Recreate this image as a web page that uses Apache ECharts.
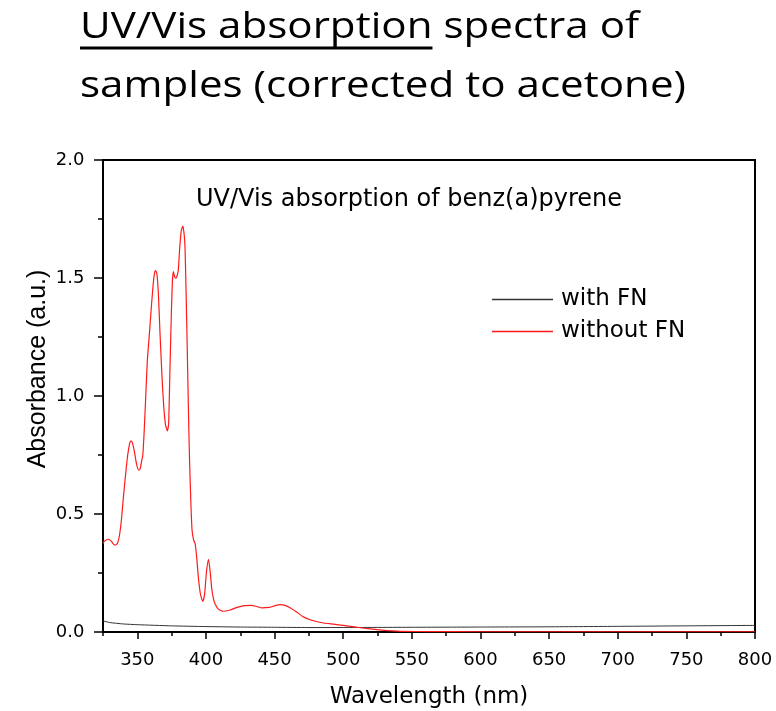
<!DOCTYPE html>
<html><head><meta charset="utf-8">
<script src="https://cdn.jsdelivr.net/npm/echarts@6/dist/echarts.min.js"></script>
<style>html,body{margin:0;padding:0;background:#fff}#c{width:776px;height:711px}</style>
</head><body><div id="c"></div>
<script>
// ---- texts ----
const titleUnderlined = 'UV/Vis absorption';
const titleRest = ' spectra of';
const titleLine2 = 'samples (corrected to acetone)';
const plotTitle = 'UV/Vis absorption of benz(a)pyrene';
const xAxisName = 'Wavelength (nm)';
const yAxisName = 'Absorbance (a.u.)';
const seriesNames = ['with FN', 'without FN'];
const seriesColors = ['#333333', '#ff1a1a'];

// ---- ticks ----
const xRange = [325, 800];
const xMajorTicks = [350, 400, 450, 500, 550, 600, 650, 700, 750, 800];
const xMinorTicks = [325, 375, 425, 475, 525, 575, 625, 675, 725, 775];
const yRange = [0, 2];
const yTickStep = 0.5;

// ---- data: with FN (black) ----
const withFN_wl  = [325, 330, 340, 350, 375, 400, 425, 450, 475, 500, 550, 600, 650, 700, 750, 800];
const withFN_abs = [0.047, 0.040, 0.034, 0.031, 0.026, 0.023, 0.021, 0.020, 0.019, 0.019, 0.020, 0.021, 0.022, 0.024, 0.026, 0.028];

// ---- data: without FN (red) ----
const withoutFN_wl = [325, 326, 327.5, 329, 331, 333.5, 335.5, 337, 338.5, 340, 341.5, 343, 344.5, 345.5, 346.5, 348, 349.5, 351, 352, 353, 354, 355, 356, 357.3, 358.5, 360, 361.5, 362.5, 363.3, 364.2, 365.3, 366.5, 368, 369.2, 370.5, 371.9, 372.8, 373.8, 374.8, 375.6, 376.3, 377.2, 378.2, 379, 379.8, 380.8, 382, 383.2, 384.2, 384.8, 385.6, 386.4, 387.2, 388, 389, 389.9, 391, 392.1, 393.2, 394.5, 396, 397.7, 399, 400.3, 401.8, 403, 404.3, 405.5, 406.6, 409, 412.7, 417, 422, 428, 433, 437, 441, 446, 450, 454, 457, 461, 466, 471, 477, 485.6, 493, 500, 508, 517.7, 528, 541.9, 560, 600, 650, 700, 750, 800];
const withoutFN_abs = [0.375, 0.385, 0.390, 0.393, 0.385, 0.368, 0.375, 0.410, 0.480, 0.580, 0.670, 0.750, 0.800, 0.810, 0.800, 0.760, 0.710, 0.686, 0.690, 0.720, 0.750, 0.850, 0.980, 1.150, 1.240, 1.360, 1.470, 1.520, 1.531, 1.520, 1.440, 1.270, 1.080, 0.960, 0.880, 0.852, 0.880, 1.120, 1.350, 1.490, 1.527, 1.505, 1.499, 1.510, 1.530, 1.620, 1.700, 1.720, 1.680, 1.620, 1.420, 1.195, 0.950, 0.740, 0.550, 0.430, 0.390, 0.375, 0.320, 0.230, 0.160, 0.130, 0.160, 0.250, 0.308, 0.260, 0.180, 0.140, 0.120, 0.097, 0.088, 0.092, 0.103, 0.112, 0.113, 0.108, 0.102, 0.104, 0.111, 0.116, 0.114, 0.104, 0.085, 0.064, 0.050, 0.038, 0.033, 0.028, 0.022, 0.014, 0.008, 0.003, 0.002, 0.001, 0.001, 0.001, 0.001, 0.001];

const pair = (xs, ys) => xs.map((x, i) => [x, ys[i]]);

// measure the slide title to stretch it like the reference
const titleFont = '36px "Open Sans"';
const mc = document.createElement('canvas').getContext('2d');
mc.font = titleFont;
const wLine2 = mc.measureText(titleLine2).width;
const sx = 606 / wLine2;
const wUnder = mc.measureText(titleUnderlined).width;

const AX = 'DejaVu Sans';
const chart = echarts.init(document.getElementById('c'), null, {renderer: 'canvas'});
chart.setOption({
  animation: false,
  backgroundColor: '#fff',
  textStyle: {fontFamily: AX, color: '#000'},
  grid: {left: 103, right: 21, top: 160, bottom: 79, show: true, borderColor: '#000', borderWidth: 2, backgroundColor: 'transparent', containLabel: false, outerBoundsMode: 'none'},
  legend: {
    orient: 'vertical', left: 487, top: 283, itemWidth: 61, itemHeight: 1.5, itemGap: 9,
    icon: 'rect',
    data: seriesNames.map((n, i) => ({name: n, icon: 'rect', itemStyle: {color: seriesColors[i], borderWidth: 0}})),
    textStyle: {fontFamily: AX, fontSize: 23, color: '#000', lineHeight: 23, padding: [0, 0, 0, 3]}
  },
  xAxis: [{
    type: 'value', min: xRange[0], max: xRange[1], position: 'bottom',
    name: xAxisName, nameLocation: 'middle', nameGap: 54,
    nameTextStyle: {fontFamily: AX, fontSize: 23, color: '#000'},
    axisLine: {show: true, lineStyle: {color: '#000', width: 2}},
    axisTick: {show: true, inside: false, length: 7, customValues: xMajorTicks, lineStyle: {color: '#000', width: 1.5}},
    axisLabel: {show: true, customValues: xMajorTicks, margin: 19, fontFamily: AX, fontSize: 18, color: '#000'},
    splitLine: {show: false}
  }, {
    type: 'value', min: xRange[0], max: xRange[1], position: 'bottom', offset: 0,
    axisLine: {show: false},
    axisTick: {show: true, inside: false, length: 4, customValues: xMinorTicks, lineStyle: {color: '#000', width: 1.5}},
    axisLabel: {show: false},
    splitLine: {show: false}
  }],
  yAxis: {
    type: 'value', min: yRange[0], max: yRange[1], interval: yTickStep,
    axisLine: {show: true, lineStyle: {color: '#000', width: 2}},
    axisTick: {show: true, inside: false, length: 9, lineStyle: {color: '#000', width: 1.5}},
    minorTick: {show: true, splitNumber: 2, length: 5, lineStyle: {color: '#000', width: 1.5}},
    axisLabel: {margin: 18.5, fontFamily: AX, fontSize: 18, color: '#000', formatter: v => v.toFixed(1)},
    splitLine: {show: false}
  },
  series: [{
    name: seriesNames[0], type: 'line', xAxisIndex: 0, symbol: 'none', smooth: 0.2,
    lineStyle: {color: seriesColors[0], width: 1}, itemStyle: {color: seriesColors[0]},
    data: pair(withFN_wl, withFN_abs)
  }, {
    name: seriesNames[1], type: 'line', xAxisIndex: 0, symbol: 'none', smooth: 0.2,
    lineStyle: {color: seriesColors[1], width: 1.2}, itemStyle: {color: seriesColors[1]},
    data: pair(withoutFN_wl, withoutFN_abs)
  }],
  graphic: [{
    type: 'group', x: 80, y: 0, scaleX: sx, scaleY: 1,
    children: [
      {type: 'text', x: 0, y: 28, style: {text: titleUnderlined + titleRest, font: titleFont, fill: '#000', verticalAlign: 'middle', align: 'left'}},
      {type: 'rect', shape: {x: 0, y: 46.5, width: wUnder, height: 3}, style: {fill: '#000'}},
      {type: 'text', x: 0, y: 86.4, style: {text: titleLine2, font: titleFont, fill: '#000', verticalAlign: 'middle', align: 'left'}}
    ]
  }, {
    type: 'text', x: 409, y: 200, style: {text: plotTitle, font: '24px "DejaVu Sans"', fill: '#000', align: 'center', verticalAlign: 'middle'}
  }, {
    type: 'text', x: 38, y: 369, rotation: Math.PI / 2,
    style: {text: yAxisName, font: '25px "Liberation Sans"', fill: '#000', align: 'center', verticalAlign: 'middle'}
  }]
});
</script></body></html>
